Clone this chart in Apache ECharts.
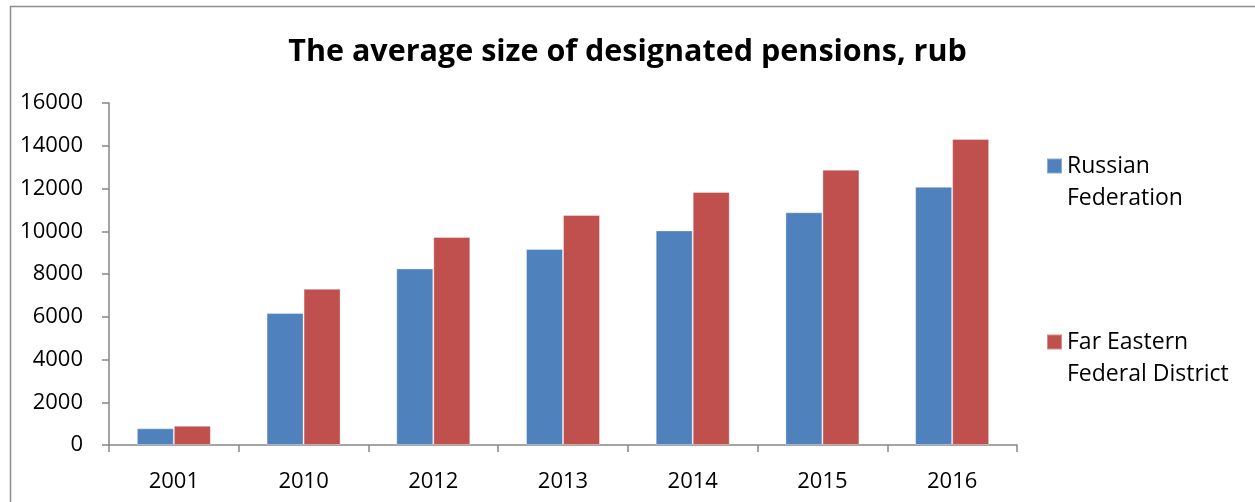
<!DOCTYPE html>
<html>
<head>
<meta charset="utf-8">
<script src="https://cdn.jsdelivr.net/npm/echarts@6/dist/echarts.min.js"></script>
<style>
html,body{margin:0;padding:0;background:#fff;}
#chart{width:1255px;height:502px;}
</style>
</head>
<body>
<div id="chart"></div>
<script>
const titleText = 'The average size of designated pensions, rub';
const categories = ['2001', '2010', '2012', '2013', '2014', '2015', '2016'];
const seriesNames = ['Russian Federation', 'Far Eastern Federal District'];
const legendLabels = ['Russian\nFederation', 'Far Eastern\nFederal District'];
const russianFederation = [780, 6170, 8260, 9170, 10040, 10890, 12080];
const farEastern = [900, 7310, 9730, 10760, 11840, 12880, 14320];
const yTicks = [0, 2000, 4000, 6000, 8000, 10000, 12000, 14000, 16000];

const chart = echarts.init(document.getElementById('chart'), null, {renderer: 'canvas'});
const axisColor = '#868686';
const font = '"Open Sans", "Liberation Sans", sans-serif';

chart.setOption({
  animation: false,
  backgroundColor: '#fff',
  title: {
    text: titleText,
    left: 'center',
    top: 32,
    textStyle: {fontFamily: font, fontWeight: 'bold', fontSize: 30.5, color: '#000'}
  },
  legend: {
    orient: 'vertical',
    left: 1041,
    top: 113,
    itemWidth: 15,
    itemHeight: 15,
    itemGap: 80,
    icon: 'rect',
    formatter: function (name) { return '\n' + legendLabels[seriesNames.indexOf(name)]; },
    textStyle: {fontFamily: font, fontSize: 23, color: '#000', lineHeight: 32},
    data: seriesNames
  },
  grid: {left: 109, right: 238, top: 103, bottom: 57, containLabel: false},
  xAxis: {
    type: 'category',
    data: categories,
    axisLine: {lineStyle: {color: axisColor, width: 1.5}},
    axisTick: {show: true, length: 7, lineStyle: {color: axisColor, width: 1.5}},
    axisLabel: {fontFamily: font, fontSize: 22, color: '#000', margin: 26},
    splitLine: {show: false}
  },
  yAxis: {
    type: 'value',
    min: yTicks[0],
    max: yTicks[yTicks.length - 1],
    interval: yTicks[1] - yTicks[0],
    axisLine: {show: true, lineStyle: {color: axisColor, width: 1.5}},
    axisTick: {show: true, length: 7, lineStyle: {color: axisColor, width: 1.5}},
    axisLabel: {fontFamily: font, fontSize: 22, color: '#000', margin: 26, formatter: function (v) { return String(v); }},
    splitLine: {show: false}
  },
  series: [
    {
      name: seriesNames[0], type: 'bar', data: russianFederation,
      barWidth: 37, barGap: '0%',
      itemStyle: {color: '#4F81BD', borderColor: 'rgba(255,255,255,0.35)', borderWidth: 1}
    },
    {
      name: seriesNames[1], type: 'bar', data: farEastern,
      barWidth: 37, barGap: '0%',
      itemStyle: {color: '#C0504D', borderColor: 'rgba(255,255,255,0.35)', borderWidth: 1}
    }
  ],
  graphic: [
    {
      type: 'rect', silent: true, z: -1,
      shape: {x: 10.5, y: 6.5, width: 1400, height: 700},
      style: {fill: 'none', stroke: '#8c8c8c', lineWidth: 1.5}
    }
  ]
});
</script>
</body>
</html>
